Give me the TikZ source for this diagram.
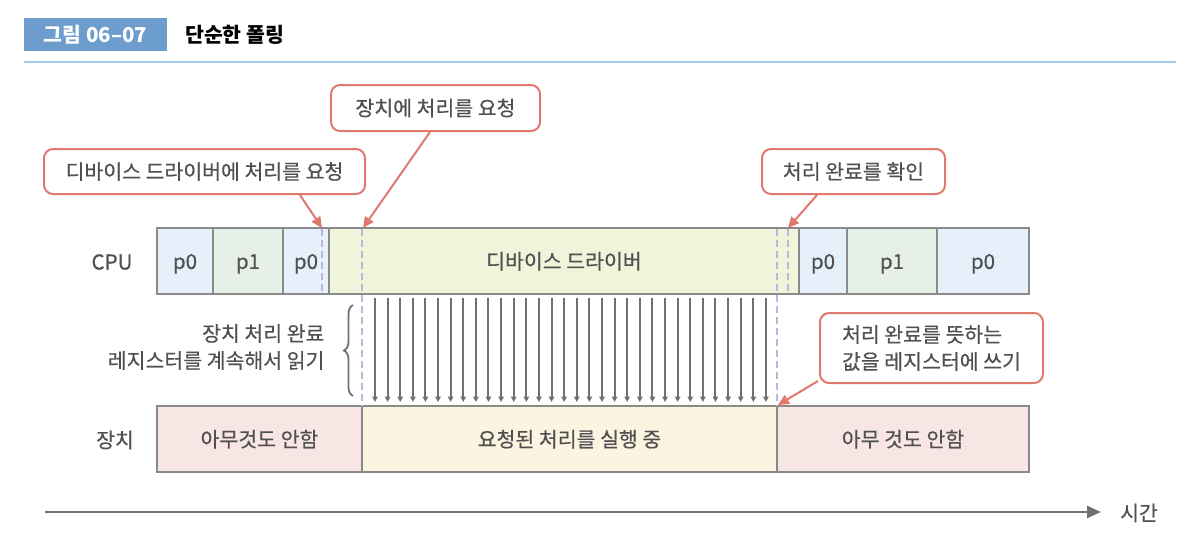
\documentclass[tikz,border=0pt]{standalone}
\usepackage{fontspec}
\setmainfont{Noto Sans CJK KR}
\newfontfamily\lblfont{Noto Sans CJK KR}[FakeBold=0.4]
\usetikzlibrary{arrows.meta,decorations.pathreplacing}
\definecolor{boxline}{HTML}{8A8A8A}
\definecolor{pzero}{HTML}{E5F0FA}
\definecolor{pone}{HTML}{E7F0E6}
\definecolor{drvfill}{HTML}{EFF4DA}
\definecolor{idlefill}{HTML}{F8E6E4}
\definecolor{busyfill}{HTML}{FCF3E1}
\definecolor{callcol}{HTML}{E0786C}
\definecolor{dashcol}{HTML}{C2B3DD}
\definecolor{txt}{HTML}{505050}
\definecolor{titlebox}{HTML}{6D9DCD}
\definecolor{rulecol}{HTML}{A3C8EC}
\definecolor{arrgray}{HTML}{707070}
\tikzset{
  lbl/.style={font=\lblfont\fontsize{20.5}{24}\selectfont, text=txt},
  lbltwo/.style={font=\lblfont\fontsize{20.5}{27}\selectfont, text=txt},
  cell/.style={draw=boxline, line width=2.5pt, minimum height=66, inner sep=0pt, lbl, text height=18pt, text depth=2.2pt},
  callout/.style={draw=callcol, line width=2pt, rounded corners=9pt, fill=white, inner sep=0pt, lbl},
  callarrow/.style={draw=callcol, line width=2pt, -{Triangle[length=11pt,width=10pt]}},
  vdash/.style={draw=dashcol, line width=2pt, dash pattern=on 7pt off 4pt},
  readarrow/.style={draw=arrgray, line width=2pt, -{Triangle[length=5.5pt,width=5.5pt]}},
  timearrow/.style={draw=arrgray, line width=2.5pt, -{Triangle[length=14pt,width=12pt]}}
}
\begin{document}
\begin{tikzpicture}[x=1pt,y=-1pt]
\useasboundingbox (0,0) rectangle (1200,542);
% title
\node[fill=titlebox, minimum width=143, minimum height=33, inner sep=0pt,
      font=\fontsize{20.5}{24}\selectfont\bfseries, text=white] (ttl) at (95.5,34.5) {그림 06–07};
\node[anchor=west, font=\fontsize{20.5}{24}\selectfont\bfseries, text=black, inner sep=0pt] (ttltext) at (185,34.5) {단순한 폴링};
\coordinate (r0) at (24,62);
\coordinate (r1) at (1176,62);
\draw[rulecol, line width=1.3pt] (r0) -- (r1);

% row labels
\node[lbl] (cpulbl) at (112,262) {CPU};
\node[lbl] (devlbl) at (115,440) {장치};

% CPU row
\node[cell, fill=pzero, minimum width=56] (p0a) at (185,261) {p0};
\node[cell, fill=pone, minimum width=70] (p1a) at (248,261) {p1};
\node[cell, fill=pzero, minimum width=46] (p0b) at (306,261) {p0};
\node[cell, fill=drvfill, minimum width=470] (drv) at (564,261) {디바이스 드라이버};
\node[cell, fill=pzero, minimum width=48] (p0c) at (823,261) {p0};
\node[cell, fill=pone, minimum width=90] (p1b) at (892,261) {p1};
\node[cell, fill=pzero, minimum width=92] (p0d) at (983,261) {p0};

% device row
\node[cell, fill=idlefill, minimum width=205] (idle1) at (259.5,439) {아무것도 안함};
\node[cell, fill=busyfill, minimum width=415] (busy) at (569.5,439) {요청된 처리를 실행 중};
\node[cell, fill=idlefill, minimum width=252] (idle2) at (903,439) {아무 것도 안함};

% dashed markers
\coordinate (d1a) at (322,229); \coordinate (d1b) at (322,294);
\coordinate (d2a) at (362,229); \coordinate (d2b) at (362,406);
\coordinate (d3a) at (777,229); \coordinate (d3b) at (777,406);
\coordinate (d4a) at (788,229); \coordinate (d4b) at (788,294);
\draw[vdash] (d1a) -- (d1b);
\draw[vdash] (d2a) -- (d2b);
\draw[vdash] (d3a) -- (d3b);
\draw[vdash] (d4a) -- (d4b);

% polling arrows
\foreach \i in {0,...,31}{
  \coordinate (ra\i) at (375+\i*12.61,298);
  \coordinate (rb\i) at (375+\i*12.61,402);
  \draw[readarrow] (ra\i) -- (rb\i);
}

% brace and its label
\coordinate (br0) at (353,396);
\coordinate (br1) at (353,305);
\draw[draw=arrgray, line width=1.8pt, decorate, decoration={brace, amplitude=9pt}] (br0) -- (br1);
\node[lbltwo, anchor=east, align=right] (readlbl) at (328,347) {장치 처리 완료\\레지스터를 계속해서 읽기};

% callouts
\node[callout, minimum width=321, minimum height=45] (c1) at (204.5,171.5) {디바이스 드라이버에 처리를 요청};
\node[callout, minimum width=209, minimum height=46] (c2) at (435.5,108) {장치에 처리를 요청};
\node[callout, minimum width=183, minimum height=45] (c3) at (853.5,171.5) {처리 완료를 확인};
\node[callout, lbltwo, minimum width=223, minimum height=70, align=left] (c4) at (931.5,348) {처리 완료를 뜻하는\\값을 레지스터에 쓰기};

\coordinate (t1) at (322,228);
\coordinate (t2) at (363,228);
\coordinate (t3) at (788,228);
\coordinate (t4) at (778,405);
\draw[callarrow] ([xshift=95.5pt]c1.south) -- (t1);
\draw[callarrow] ([xshift=-5.5pt]c2.south) -- (t2);
\draw[callarrow] ([xshift=-36.5pt]c3.south) -- (t3);
\draw[callarrow] ([xshift=-1pt,yshift=3pt]c4.south west) -- (t4);

% time axis
\coordinate (ax0) at (45,512);
\coordinate (ax1) at (1101,512);
\draw[timearrow] (ax0) -- (ax1);
\node[lbl] (timelbl) at (1139,513) {시간};
\end{tikzpicture}
\end{document}
